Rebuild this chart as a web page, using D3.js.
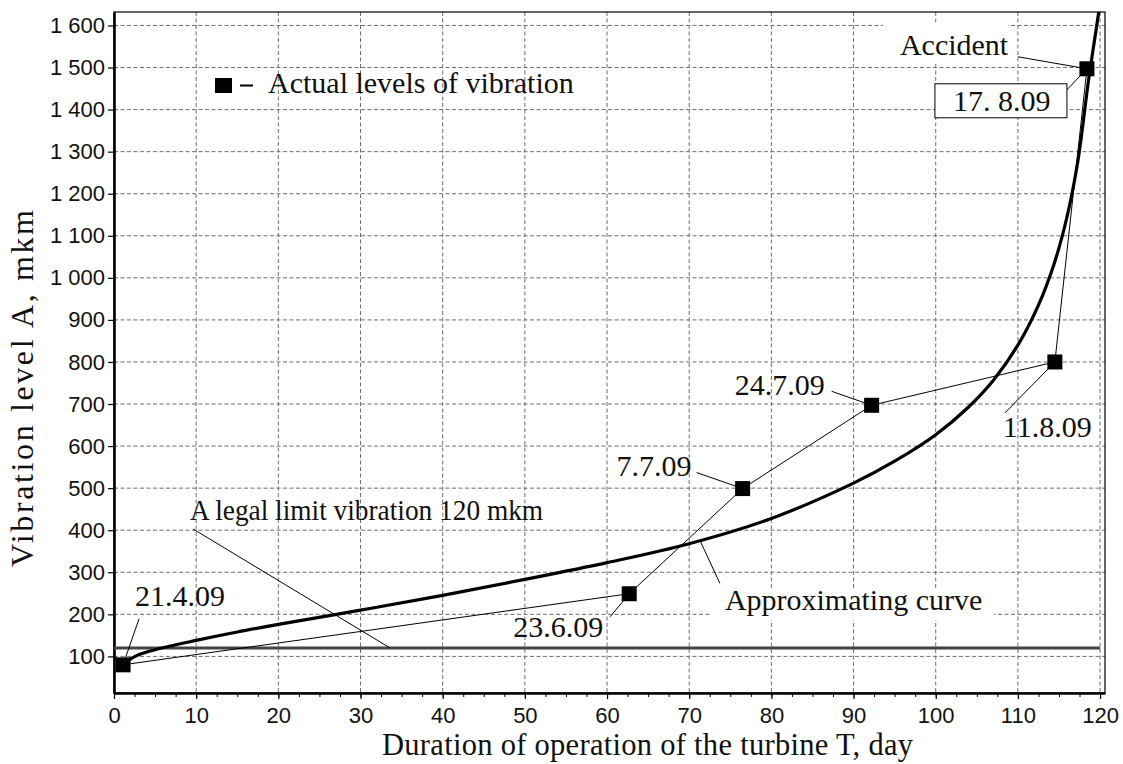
<!DOCTYPE html>
<html>
<head>
<meta charset="utf-8">
<script src="https://cdn.jsdelivr.net/npm/d3@7"></script>
<style>
  body { margin: 0; background: #fff; }
  svg { display: block; }
</style>
</head>
<body>
<svg></svg>
<script>
// vibration of the turbine: measured points + approximating curve

const width = 1123;
const height = 764;

// measured levels
const dates = ["21.4.09", "23.6.09", "7.7.09", "24.7.09", "11.8.09", "17. 8.09"];
const days = [1.1, 62.7, 76.5, 92.2, 114.5, 118.4];
const levels = [80, 249, 499, 697, 800, 1497];

// approximating curve
const curveDays = [1.5, 3, 5, 10, 15, 20, 30, 40, 50, 60, 70, 80, 90, 95, 100, 104, 107, 110, 112.5, 114.5, 116, 117.3, 118.6, 120.1, 120.6];
const curveLevels = [88, 104, 116, 138, 158, 176, 210, 245, 283, 323, 368, 428, 512, 564, 627, 693, 756, 840, 935, 1039, 1147, 1278, 1470, 1665, 1740];

const legalLimit = 120;
const xTicks = d3.range(0, 121, 10);
const xMinor = d3.range(0, 121, 2.5);
const yTicks = d3.range(100, 1601, 100);

const x = d3.scaleLinear().domain([0, 120.6]).range([114, 1105]);
const y = d3.scaleLinear().domain([13, 1632]).range([693, 12]);

const serif = "'Liberation Serif', 'Times New Roman', serif";
const sans = "'Liberation Sans', Arial, sans-serif";

const fmt = d3.formatLocale({ decimal: ".", thousands: " ", grouping: [3], currency: ["", ""] }).format(",");

const svg = d3.select("svg")
  .attr("width", width)
  .attr("height", height);

svg.append("defs").append("clipPath")
  .attr("id", "plot")
  .append("rect")
  .attr("x", x(0)).attr("y", y(1632))
  .attr("width", x(120.6) - x(0)).attr("height", y(13) - y(1632));

// grid
const grid = svg.append("g")
  .attr("stroke", "#6e6e6e")
  .attr("stroke-width", 1)
  .attr("stroke-dasharray", "4,2.5");

grid.selectAll("line.v")
  .data(xTicks.slice(1))
  .join("line")
  .attr("class", "v")
  .attr("x1", d => x(d)).attr("x2", d => x(d))
  .attr("y1", y(1632)).attr("y2", y(13));

grid.selectAll("line.h")
  .data(yTicks)
  .join("line")
  .attr("class", "h")
  .attr("x1", x(0)).attr("x2", x(120.6))
  .attr("y1", d => y(d)).attr("y2", d => y(d));

// frame
svg.append("rect")
  .attr("x", x(0)).attr("y", y(1632))
  .attr("width", x(120.6) - x(0)).attr("height", y(13) - y(1632))
  .attr("fill", "none")
  .attr("stroke", "#000")
  .attr("stroke-width", 1.2);

// axes
const yAxis = svg.append("g")
  .attr("transform", `translate(${x(0)},0)`)
  .call(d3.axisLeft(y).tickValues(yTicks).tickSize(6).tickSizeOuter(0).tickPadding(3).tickFormat(fmt));

const xAxis = svg.append("g")
  .attr("transform", `translate(0,${y(13)})`)
  .call(d3.axisBottom(x).tickValues(xTicks).tickSize(6).tickSizeOuter(0).tickPadding(8));

svg.append("g")
  .attr("transform", `translate(0,${y(13)})`)
  .call(d3.axisBottom(x).tickValues(xMinor).tickSize(4).tickSizeOuter(0).tickFormat(""))
  .call(g => g.select(".domain").remove());

[yAxis, xAxis].forEach(g => {
  g.select(".domain").attr("stroke-width", 2.6);
  g.selectAll(".tick line").attr("stroke-width", 1.2);
  g.selectAll(".tick text")
    .attr("font-family", sans)
    .attr("font-size", 22)
    .attr("fill", "#111");
});

// white boxes behind some labels (grid is broken there)
svg.append("rect").attr("x", 883).attr("y", 24).attr("width", 125).attr("height", 40).attr("fill", "#fff");
svg.append("rect").attr("x", 710).attr("y", 588).attr("width", 284).attr("height", 32).attr("fill", "#fff");

// legal limit
svg.append("line")
  .attr("x1", x(0)).attr("x2", x(120))
  .attr("y1", y(legalLimit)).attr("y2", y(legalLimit))
  .attr("stroke", "#444")
  .attr("stroke-width", 3.2);

// approximating curve
const curvePts = curveDays.map((d, i) => [d, curveLevels[i]]);
svg.append("path")
  .attr("clip-path", "url(#plot)")
  .attr("fill", "none")
  .attr("stroke", "#000")
  .attr("stroke-width", 3.2)
  .attr("d", d3.line().x(d => x(d[0])).y(d => y(d[1])).curve(d3.curveCatmullRom.alpha(0.5))(curvePts));

// measured points
const pts = days.map((d, i) => ({ day: d, level: levels[i], date: dates[i] }));

svg.append("path")
  .attr("fill", "none")
  .attr("stroke", "#000")
  .attr("stroke-width", 1)
  .attr("d", d3.line().x(d => x(d.day)).y(d => y(d.level))(pts));

// label placement relative to each point (px)
const labelPos = [
  { tx: 12, ty: -59, lx: 16, ly: -46 },
  { tx: -116, ty: 43, lx: -19, ly: 23 },
  { tx: -126, ty: -13, lx: -46, ly: -16 },
  { tx: -137, ty: -10, lx: -40, ly: -14 },
  { tx: -52, ty: 75, lx: -50, ly: 51 },
  { tx: -134, ty: 42, lx: -20, ly: 21 }
];

const lab = svg.append("g")
  .attr("font-family", serif)
  .attr("font-size", 30)
  .attr("fill", "#111");

pts.forEach((p, i) => {
  const px = x(p.day), py = y(p.level), o = labelPos[i];
  lab.append("line")
    .attr("x1", px).attr("y1", py)
    .attr("x2", px + o.lx).attr("y2", py + o.ly)
    .attr("stroke", "#000").attr("stroke-width", 1);
  if (i === pts.length - 1) {
    lab.append("rect")
      .attr("x", px - 152).attr("y", py + 15)
      .attr("width", 132).attr("height", 34)
      .attr("fill", "#fff").attr("stroke", "#000").attr("stroke-width", 1);
  }
  lab.append("text")
    .attr("x", px + o.tx).attr("y", py + o.ty)
    .text(p.date);
});

// Accident
{
  const px = x(days[5]), py = y(levels[5]);
  lab.append("line")
    .attr("x1", px).attr("y1", py)
    .attr("x2", px - 69).attr("y2", py - 12)
    .attr("stroke", "#000").attr("stroke-width", 1);
  lab.append("text").attr("x", px - 187).attr("y", py - 14).text("Accident");
}

svg.append("g")
  .selectAll("rect")
  .data(pts)
  .join("rect")
  .attr("x", d => x(d.day) - 7.5)
  .attr("y", d => y(d.level) - 7.5)
  .attr("width", 15)
  .attr("height", 15)
  .attr("fill", "#000");

// approximating curve label
{
  const px = x(71.3), py = y(376);
  lab.append("line")
    .attr("x1", px).attr("y1", py).attr("x2", px + 20).attr("y2", py + 43)
    .attr("stroke", "#000").attr("stroke-width", 1);
  lab.append("text").attr("x", px + 25).attr("y", py + 70).text("Approximating curve");
}

// legal limit label
{
  const px = x(33.6), py = y(legalLimit);
  lab.append("line")
    .attr("x1", px).attr("y1", py).attr("x2", px - 197).attr("y2", py - 119)
    .attr("stroke", "#000").attr("stroke-width", 1);
  lab.append("text")
    .attr("x", px - 200).attr("y", py - 128)
    .attr("textLength", 353)
    .attr("lengthAdjust", "spacingAndGlyphs")
    .text("A legal limit vibration 120 mkm");
}

// legend
const legend = svg.append("g").attr("transform", "translate(215,78)");
legend.append("rect").attr("width", 17).attr("height", 15).attr("fill", "#000");
legend.append("line")
  .attr("x1", 25).attr("x2", 38).attr("y1", 7.5).attr("y2", 7.5)
  .attr("stroke", "#000").attr("stroke-width", 2);
legend.append("text")
  .attr("x", 53).attr("y", 15)
  .attr("font-family", serif).attr("font-size", 30).attr("fill", "#111")
  .text("Actual levels of vibration");

// axis titles
svg.append("text")
  .attr("x", 382).attr("y", 755)
  .attr("font-family", serif).attr("font-size", 30.5).attr("fill", "#111")
  .attr("textLength", 531)
  .text("Duration of operation of the turbine T, day");

svg.append("text")
  .attr("transform", "translate(33,567) rotate(-90)")
  .attr("font-family", serif).attr("font-size", 32).attr("fill", "#111")
  .attr("textLength", 357)
  .text("Vibration level A, mkm");
</script>
</body>
</html>
